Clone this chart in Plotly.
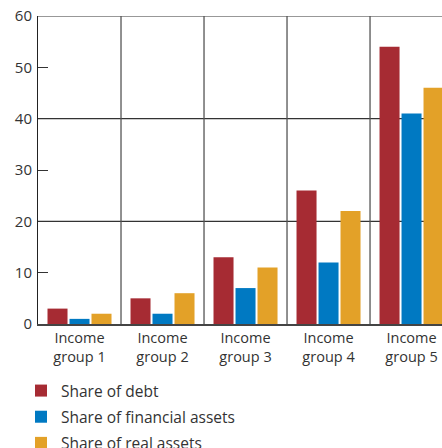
import plotly.graph_objects as go

# Income groups and each group's share of the total (per cent)
groups = ["Income<br>group 1", "Income<br>group 2", "Income<br>group 3",
          "Income<br>group 4", "Income<br>group 5"]
share_debt = [3, 5, 13, 26, 54]
share_financial = [1, 2, 7, 12, 41]
share_real = [2, 6, 11, 22, 46]

series_names = ["Share of debt", "Share of financial assets", "Share of real assets"]
y_ticks = [0, 10, 20, 30, 40, 50, 60]
grid_levels = [20, 40, 60]

colors = ["#A62B33", "#0079C2", "#E3A128"]
font_family = "Open Sans, Noto Sans, sans-serif"
text_color = "#333333"

fig = go.Figure()
for name, vals, col in zip(series_names, [share_debt, share_financial, share_real], colors):
    fig.add_trace(go.Bar(x=groups, y=vals, name=name, legendgroup=name,
                         marker=dict(color=col, line=dict(width=0))))

shapes = []
# horizontal rules across the full plot width
for lvl in grid_levels:
    shapes.append(dict(type="line", xref="paper", yref="y", x0=0, x1=1, y0=lvl, y1=lvl,
                       line=dict(color="#333333", width=1.2), layer="below"))
# vertical separators between income groups
for i in range(len(groups) - 1):
    shapes.append(dict(type="line", xref="x", yref="y", x0=i + 0.5, x1=i + 0.5, y0=0, y1=60,
                       line=dict(color="#555555", width=1.3), layer="below"))

fig.update_layout(
    width=442, height=448,
    margin=dict(l=38, r=0, t=16, b=124, autoexpand=False),
    paper_bgcolor="white", plot_bgcolor="white",
    barmode="group", bargap=0.205, bargroupgap=0.09,
    font=dict(family=font_family, color=text_color, size=14),
    shapes=shapes,
    showlegend=True,
    legend=dict(
        orientation="v", xref="container", yref="container",
        x=21 / 442, y=1 - 374 / 448, xanchor="left", yanchor="top",
        font=dict(size=15.5, color=text_color, family=font_family),
        bgcolor="rgba(0,0,0,0)", tracegroupgap=3, itemclick=False,
    ),
)
fig.update_xaxes(
    range=[-0.5, 4.367], showgrid=False, showline=True, linecolor="#444444", linewidth=2,
    ticks="", tickangle=0, tickfont=dict(size=14.5, color=text_color), fixedrange=True,
)
fig.update_yaxes(
    range=[0, 60], tickvals=y_ticks, showgrid=False, zeroline=False,
    showline=True, linecolor="#222222", linewidth=1,
    ticks="inside", ticklen=10, tickwidth=1, tickcolor="#333333",
    tickfont=dict(size=15, color=text_color), ticklabelstandoff=2, fixedrange=True,
)

fig.write_html("out.html", config={"displayModeBar": False})
